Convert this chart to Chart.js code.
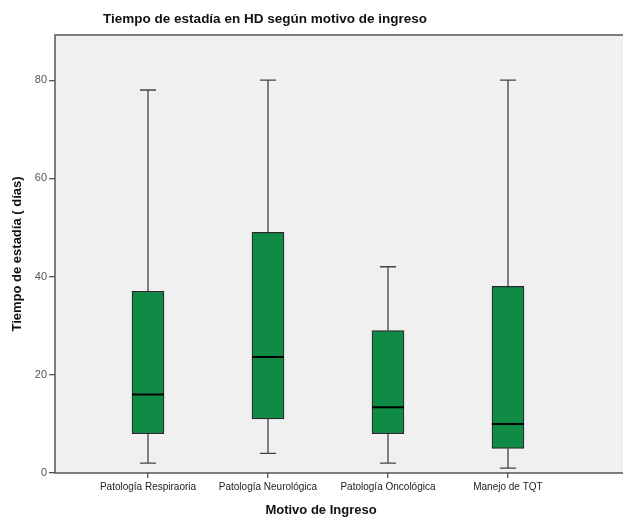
<!DOCTYPE html>
<html lang="es">
<head>
<meta charset="UTF-8">
<title>Tiempo de estadía en HD según motivo de ingreso</title>
<script src="https://cdn.jsdelivr.net/npm/chart.js"></script>
<style>
    body { margin: 0; padding: 0; background: #fff; overflow: hidden; }
    .wrap { width: 623px; height: 519px; overflow: hidden; }
    canvas { display: block; }
</style>
</head>
<body>
<div class="wrap"><canvas id="boxChart" width="645" height="519"></canvas></div>
<script>
// datos (días)
const categorias = ['Patología Respiraoria', 'Patología Neurológica', 'Patología Oncológica', 'Manejo de TQT'];
const minimos = [2, 4, 2, 1];
const cuartil1 = [8, 11, 8, 5];
const medianas = [16, 23.6, 13.4, 10];
const cuartil3 = [37, 49, 29, 38];
const maximos = [78, 80, 42, 80];
const ticksY = [0, 20, 40, 60, 80];

const fuente = "'Liberation Sans', Arial, sans-serif";

// bigotes, medianas, marco y títulos
const cajaPlugin = {
    id: 'caja',
    beforeDraw(chart) {
        const { ctx, chartArea: a } = chart;
        ctx.save();
        ctx.fillStyle = '#f0f0f0';
        ctx.fillRect(a.left, a.top, a.right - a.left, a.bottom - a.top);
        ctx.restore();
    },
    beforeDatasetsDraw(chart) {
        const { ctx } = chart;
        const x = chart.scales.x, y = chart.scales.y;
        ctx.save();
        ctx.strokeStyle = '#444';
        ctx.lineWidth = 1.3;
        categorias.forEach((c, i) => {
            const px = x.getPixelForValue(i + 1);
            const yMin = y.getPixelForValue(minimos[i]);
            const yMax = y.getPixelForValue(maximos[i]);
            ctx.beginPath();
            ctx.moveTo(px, y.getPixelForValue(cuartil3[i]));
            ctx.lineTo(px, yMax);
            ctx.moveTo(px, y.getPixelForValue(cuartil1[i]));
            ctx.lineTo(px, yMin);
            ctx.moveTo(px - 8, yMax);
            ctx.lineTo(px + 8, yMax);
            ctx.moveTo(px - 8, yMin);
            ctx.lineTo(px + 8, yMin);
            ctx.stroke();
        });
        ctx.restore();
    },
    afterDatasetsDraw(chart) {
        const { ctx } = chart;
        const meta = chart.getDatasetMeta(0);
        const y = chart.scales.y;
        ctx.save();
        ctx.strokeStyle = '#000';
        ctx.lineWidth = 2;
        meta.data.forEach((bar, i) => {
            const py = y.getPixelForValue(medianas[i]);
            ctx.beginPath();
            ctx.moveTo(bar.x - bar.width / 2, py);
            ctx.lineTo(bar.x + bar.width / 2, py);
            ctx.stroke();
        });
        ctx.restore();
    },
    afterDraw(chart) {
        const { ctx, chartArea: a } = chart;
        ctx.save();
        ctx.strokeStyle = '#555';
        ctx.lineWidth = 1.5;
        ctx.strokeRect(a.left, a.top, a.right - a.left + 5, a.bottom - a.top);
        ctx.fillStyle = '#111';
        ctx.textAlign = 'center';
        ctx.textBaseline = 'middle';
        ctx.font = 'bold 13.5px ' + fuente;
        ctx.fillText('Tiempo de estadía en HD según motivo de ingreso', 265, 19);
        ctx.font = 'bold 13px ' + fuente;
        ctx.fillText('Motivo de Ingreso', 321, 510);
        ctx.restore();
    }
};

new Chart(document.getElementById('boxChart'), {
    type: 'bar',
    data: {
        datasets: [{
            data: categorias.map((c, i) => ({ x: i + 1, y: [cuartil1[i], cuartil3[i]] })),
            backgroundColor: '#0f8b46',
            borderColor: '#2a2a2a',
            borderWidth: 1.2,
            borderSkipped: false,
            barThickness: 32
        }]
    },
    options: {
        responsive: false,
        animation: false,
        layout: { padding: { top: 35, left: 0, right: 0, bottom: 0 } },
        plugins: {
            legend: { display: false },
            tooltip: { enabled: false },
            title: { display: false }
        },
        scales: {
            x: {
                type: 'linear',
                min: 0.225,
                max: 5.142,
                offset: false,
                afterBuildTicks: s => { s.ticks = categorias.map((c, i) => ({ value: i + 1 })); },
                afterFit: s => { s.height = 46; },
                border: { display: false },
                grid: { offset: false, drawOnChartArea: false, drawTicks: true, tickLength: 5, color: '#555', lineWidth: 1.3 },
                ticks: {
                    autoSkip: false,
                    maxRotation: 0,
                    padding: 3,
                    color: '#222',
                    font: { family: fuente, size: 10 },
                    callback: v => categorias[v - 1]
                }
            },
            y: {
                min: 0,
                max: 89.2,
                afterBuildTicks: s => { s.ticks = ticksY.map(v => ({ value: v })); },
                afterFit: s => { s.width = 55; },
                border: { display: false },
                grid: { drawOnChartArea: false, drawTicks: true, tickLength: 6, color: '#555', lineWidth: 1.3 },
                ticks: { padding: 2, color: '#555', font: { family: fuente, size: 11 } },
                title: {
                    display: true,
                    text: 'Tiempo de estadía ( días)',
                    color: '#111',
                    font: { family: fuente, size: 13, weight: 'bold' },
                    padding: { top: 10, bottom: 0 }
                }
            }
        }
    },
    plugins: [cajaPlugin]
});
</script>
</body>
</html>
